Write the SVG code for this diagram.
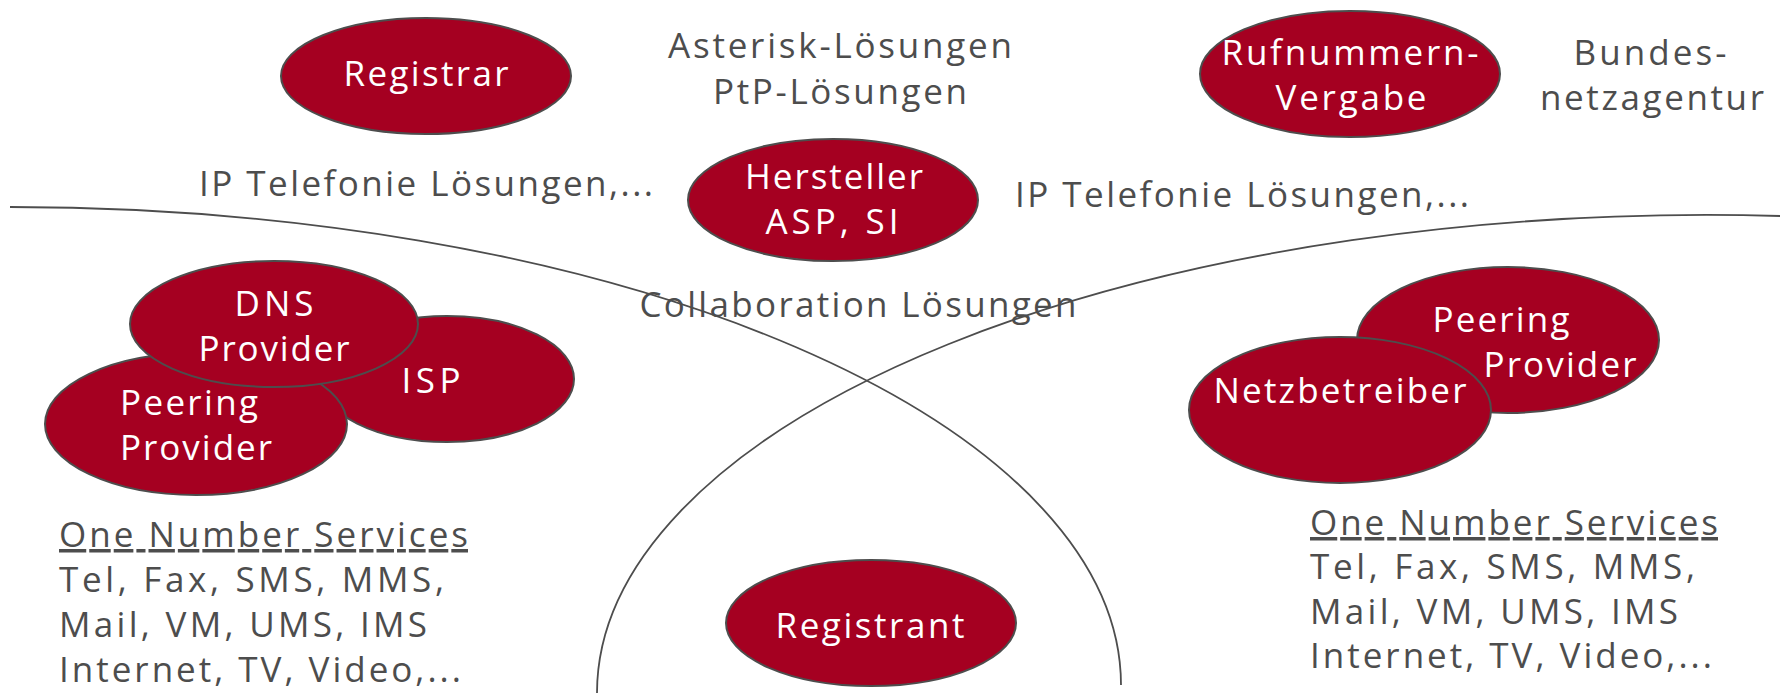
<svg xmlns="http://www.w3.org/2000/svg" width="1780" height="693" viewBox="0 0 1780 693">
<style>
.bg{fill:#ffffff}
.node ellipse{fill:#a50021;stroke:#4d4d4d;stroke-width:2}
.wt{fill:#ffffff;font-family:"Open Sans","Liberation Sans",Arial,sans-serif;font-size:35px;text-anchor:middle}
.gt{fill:#4d4d4d;font-family:"Open Sans","Liberation Sans",Arial,sans-serif;font-size:35px}
.mid{text-anchor:middle}
.curve{fill:none;stroke:#4d4d4d;stroke-width:1.8}
.ul{text-decoration:underline}
</style>
<rect class="bg" x="0" y="0" width="1780" height="693"/>

<g id="connectors">
<path class="curve" d="M10,207 A1111,478 0 0 1 1121,685"/>
<path class="curve" d="M1780,216 A1111,478 0 0 0 597,693"/>
</g>

<g id="labels">
<text class="gt mid" x="840" y="58" textLength="344">Asterisk-Lösungen</text>
<text class="gt mid" x="840" y="104" textLength="254">PtP-Lösungen</text>
<text class="gt mid" x="1650" y="65" textLength="153">Bundes-</text>
<text class="gt mid" x="1652" y="110" textLength="224">netzagentur</text>
<text class="gt" x="199" y="196" textLength="454">IP Telefonie Lösungen,...</text>
<text class="gt" x="1015" y="207" textLength="454">IP Telefonie Lösungen,...</text>
<text class="gt mid" x="858" y="317" textLength="437">Collaboration Lösungen</text>
</g>

<g id="registrar" class="node">
<ellipse cx="426" cy="76" rx="145" ry="58"/>
<text class="wt" x="426" y="86" textLength="165">Registrar</text>
</g>

<g id="rufnummern" class="node">
<ellipse cx="1350" cy="74" rx="150" ry="63"/>
<text class="wt" x="1350" y="65" textLength="257">Rufnummern-</text>
<text class="wt" x="1351" y="110" textLength="151">Vergabe</text>
</g>

<g id="hersteller" class="node">
<ellipse cx="833" cy="200" rx="145" ry="61"/>
<text class="wt" x="834" y="189" textLength="178">Hersteller</text>
<text class="wt" x="832" y="234" textLength="133">ASP, SI</text>
</g>

<g id="isp" class="node">
<ellipse cx="447" cy="379" rx="127" ry="63"/>
<text class="wt" x="431" y="393" textLength="59">ISP</text>
</g>

<g id="peering-left" class="node">
<ellipse cx="196" cy="424" rx="151" ry="71"/>
<text class="wt" x="189" y="415" textLength="138">Peering</text>
<text class="wt" x="196" y="460" textLength="152">Provider</text>
</g>

<g id="dns" class="node">
<ellipse cx="274" cy="324" rx="144" ry="63"/>
<text class="wt" x="274" y="316" textLength="79">DNS</text>
<text class="wt" x="274" y="361" textLength="151">Provider</text>
</g>

<g id="peering-right" class="node">
<ellipse cx="1508" cy="340" rx="151" ry="73"/>
<text class="wt" x="1501" y="332" textLength="137">Peering</text>
<text class="wt" x="1560" y="377" textLength="153">Provider</text>
</g>

<g id="netzbetreiber" class="node">
<ellipse cx="1340" cy="410" rx="151" ry="73"/>
<text class="wt" x="1340" y="403" textLength="253">Netzbetreiber</text>
</g>

<g id="registrant" class="node">
<ellipse cx="871" cy="623" rx="145" ry="63"/>
<text class="wt" x="870" y="638" textLength="189">Registrant</text>
</g>

<g id="services-left">
<text class="gt ul" x="59" y="547" textLength="409">One Number Services</text>
<text class="gt" x="59" y="592" textLength="385">Tel, Fax, SMS, MMS,</text>
<text class="gt" x="59" y="637" textLength="368">Mail, VM, UMS, IMS</text>
<text class="gt" x="59" y="682" textLength="402">Internet, TV, Video,...</text>
</g>

<g id="services-right">
<text class="gt ul" x="1310" y="535" textLength="408">One Number Services</text>
<text class="gt" x="1310" y="579" textLength="385">Tel, Fax, SMS, MMS,</text>
<text class="gt" x="1310" y="624" textLength="368">Mail, VM, UMS, IMS</text>
<text class="gt" x="1310" y="668" textLength="402">Internet, TV, Video,...</text>
</g>
</svg>
